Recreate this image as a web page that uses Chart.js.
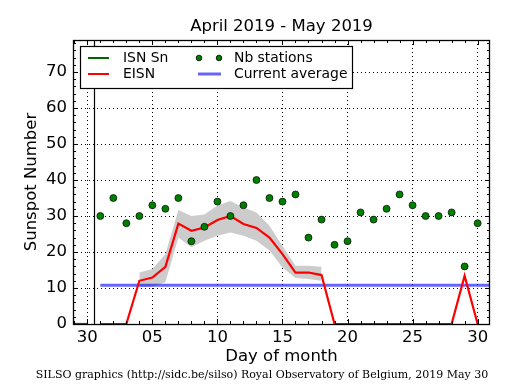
<!DOCTYPE html>
<html>
<head>
<meta charset="utf-8">
<script src="https://cdn.jsdelivr.net/npm/chart.js@4"></script>
<style>
  body { margin: 0; background: #fff; }
  #wrap { width: 515px; height: 390px; position: relative; }
</style>
</head>
<body>
<div id="wrap"><canvas id="sunChart"></canvas></div>
<script>
// day index: 0 = April 30, 1..30 = May 1..30
const days = [1,2,3,4,5,6,7,8,9,10,11,12,13,14,15,16,17,18,19,20,21,22,23,24,25,26,27,28,29,30];
const eisn = [0,0,0,12,12.9,15.9,27.9,25.9,26.8,28.9,30,27.8,26.7,24,19.4,14.3,14.3,13.6,0,0,0,0,0,0,0,0,0,0,13.4,0];
const bandHigh = [null,null,null,14.3,15.3,19.4,31.7,30,30.4,32.9,34.2,32.4,31,27.3,21.7,16.2,16.2,15.9,null,null,null,null,null,null,null,null,null,null,null,null];
const bandLow = [null,null,null,10.2,10.4,11.6,24,21.3,23.1,24.5,25.4,24.5,23.1,20.4,15.7,12.8,12.5,12,null,null,null,null,null,null,null,null,null,null,null,null];
const stations = [30,35,28,30,33,32,35,23,27,34,30,33,40,35,34,36,24,29,22,23,31,29,32,36,33,30,30,31,16,28];
const isnDays = [-2,-1,0];
const isnSn = [0,0,0];
const avgDays = [1,31];
const currentAvg = 10.8;
const monthBoundary = 0.5;

const xTickValues = [0,5,10,15,20,25,30];
const xTickLabels = ['30','05','10','15','20','25','30'];
const yTickValues = [0,10,20,30,40,50,60,70];
const yTickLabels = ['0','10','20','30','40','50','60','70'];

const titleText = 'April 2019 - May 2019';
const xTitle = 'Day of month';
const yTitle = 'Sunspot Number';
const footer = 'SILSO graphics (http://sidc.be/silso) Royal Observatory of Belgium, 2019 May 30';

function pts(xs, ys) {
    return xs.map(function(x, i) { return { x: x, y: ys[i] }; });
}

const SANS = '"DejaVu Sans", sans-serif';

// inward tick marks, frame, month boundary line, texts and legend
const decorPlugin = {
    id: 'decor',
    beforeDatasetsDraw(chart) {
        const ctx = chart.ctx, a = chart.chartArea;
        const xs = chart.scales.x;
        const px = Math.round(xs.getPixelForValue(monthBoundary)) + 0.5;
        ctx.save();
        ctx.strokeStyle = '#000';
        ctx.lineWidth = 1.2;
        ctx.beginPath();
        ctx.moveTo(px, a.top);
        ctx.lineTo(px, a.bottom);
        ctx.stroke();
        ctx.restore();
    },
    afterDraw(chart) {
        const ctx = chart.ctx, a = chart.chartArea;
        const xs = chart.scales.x, ys = chart.scales.y;
        ctx.save();
        ctx.strokeStyle = '#000';
        ctx.lineWidth = 1;
        ctx.beginPath();
        xs.ticks.forEach(function(t) {
            const p = Math.round(xs.getPixelForValue(t.value)) + 0.5;
            const len = xTickValues.includes(t.value) ? 5 : 3;
            ctx.moveTo(p, a.bottom); ctx.lineTo(p, a.bottom - len);
            ctx.moveTo(p, a.top); ctx.lineTo(p, a.top + len);
        });
        ys.ticks.forEach(function(t) {
            const p = Math.round(ys.getPixelForValue(t.value)) + 0.5;
            const len = yTickValues.includes(t.value) ? 5 : 3;
            ctx.moveTo(a.left, p); ctx.lineTo(a.left + len, p);
            ctx.moveTo(a.right, p); ctx.lineTo(a.right - len, p);
        });
        ctx.stroke();
        ctx.lineWidth = 1.3;
        ctx.strokeRect(Math.round(a.left) + 0.5, Math.round(a.top) + 0.5,
                       Math.round(a.right - a.left) - 1, Math.round(a.bottom - a.top));

        // texts
        const cx = (a.left + a.right) / 2;
        ctx.fillStyle = '#000';
        ctx.textAlign = 'center';
        ctx.textBaseline = 'middle';
        ctx.font = '16.5px ' + SANS;
        ctx.fillText(titleText, cx, 27);
        ctx.fillText(xTitle, cx, 357);
        ctx.save();
        ctx.translate(32, (a.top + a.bottom) / 2);
        ctx.rotate(-Math.PI / 2);
        ctx.fillText(yTitle, 0, 0);
        ctx.restore();
        ctx.font = '11px "DejaVu Serif", serif';
        ctx.fillText(footer, 262, 375);

        // legend
        const lx = 80.5, ly = 46.5, lw = 272, lh = 42;
        ctx.fillStyle = '#fff';
        ctx.fillRect(lx, ly, lw, lh);
        ctx.strokeStyle = '#000';
        ctx.lineWidth = 1.2;
        ctx.strokeRect(lx, ly, lw, lh);
        const r1 = 58, r2 = 74;
        ctx.lineWidth = 2;
        ctx.strokeStyle = '#006400';
        ctx.beginPath(); ctx.moveTo(88, r1); ctx.lineTo(109, r1); ctx.stroke();
        ctx.strokeStyle = '#ff0000';
        ctx.beginPath(); ctx.moveTo(88, r2); ctx.lineTo(109, r2); ctx.stroke();
        ctx.lineWidth = 3;
        ctx.strokeStyle = 'rgba(0,0,255,0.6)';
        ctx.beginPath(); ctx.moveTo(198, r2); ctx.lineTo(221, r2); ctx.stroke();
        [199, 219].forEach(function(dx) {
            ctx.beginPath();
            ctx.arc(dx, r1, 2.8, 0, Math.PI * 2);
            ctx.fillStyle = '#008000';
            ctx.fill();
            ctx.lineWidth = 0.8;
            ctx.strokeStyle = '#000';
            ctx.stroke();
        });
        ctx.fillStyle = '#000';
        ctx.textAlign = 'left';
        ctx.font = '13.9px ' + SANS;
        ctx.fillText('ISN Sn', 123, r1);
        ctx.fillText('EISN', 123, r2);
        ctx.fillText('Nb stations', 234, r1);
        ctx.fillText('Current average', 234, r2);
        ctx.restore();
    }
};

const ctx = document.getElementById('sunChart').getContext('2d');
const chart = new Chart(ctx, {
    type: 'line',
    data: {
        datasets: [
            {
                label: 'Nb stations',
                data: pts(days, stations),
                showLine: false,
                pointRadius: 3.5,
                pointBackgroundColor: '#008000',
                pointBorderColor: 'rgba(0,0,0,0.85)',
                pointBorderWidth: 0.8,
                order: 0
            },
            {
                label: 'EISN',
                data: pts(days, eisn),
                borderColor: '#ff0000',
                borderWidth: 2.2,
                pointRadius: 0,
                order: 1
            },
            {
                label: 'ISN Sn',
                data: pts(isnDays, isnSn),
                borderColor: '#006400',
                borderWidth: 2.2,
                pointRadius: 0,
                order: 2
            },
            {
                label: 'Current average',
                data: pts(avgDays, [currentAvg, currentAvg]),
                borderColor: 'rgba(0,0,255,0.6)',
                borderWidth: 3,
                pointRadius: 0,
                order: 3
            },
            {
                label: 'band high',
                data: pts(days, bandHigh),
                borderWidth: 0,
                borderColor: 'rgba(0,0,0,0)',
                backgroundColor: '#cccccc',
                pointRadius: 0,
                fill: '+1',
                order: 4
            },
            {
                label: 'band low',
                data: pts(days, bandLow),
                borderWidth: 0,
                borderColor: 'rgba(0,0,0,0)',
                pointRadius: 0,
                fill: false,
                order: 5
            }
        ]
    },
    options: {
        responsive: true,
        maintainAspectRatio: false,
        animation: false,
        devicePixelRatio: 1,
        layout: { padding: { top: 40, right: 25, bottom: 0, left: 0 } },
        plugins: {
            legend: { display: false },
            title: { display: false },
            tooltip: { enabled: false }
        },
        scales: {
            x: {
                type: 'linear',
                min: -1.1,
                max: 30.95,
                afterFit: function(s) { s.height = 66; },
                afterBuildTicks: function(s) {
                    const t = [];
                    for (let v = -1; v <= 30; v++) t.push({ value: v });
                    s.ticks = t;
                },
                ticks: {
                    autoSkip: false,
                    maxRotation: 0,
                    padding: 4,
                    color: '#000',
                    font: { family: 'DejaVu Sans', size: 16.5 },
                    callback: function(v) {
                        const i = xTickValues.indexOf(v);
                        return i >= 0 ? xTickLabels[i] : '';
                    }
                },
                grid: {
                    drawTicks: false,
                    lineWidth: 1,
                    color: function(c) {
                        return c.tick && xTickValues.includes(c.tick.value) ? '#000' : 'rgba(0,0,0,0)';
                    }
                },
                border: { display: false, dash: [1, 3] }
            },
            y: {
                type: 'linear',
                min: 0,
                max: 78.9,
                afterFit: function(s) { s.width = 73; },
                afterBuildTicks: function(s) {
                    const t = [];
                    for (let v = 0; v <= 78; v += 2) t.push({ value: v });
                    s.ticks = t;
                },
                ticks: {
                    autoSkip: false,
                    padding: 6,
                    color: '#000',
                    font: { family: 'DejaVu Sans', size: 16.5 },
                    callback: function(v) {
                        const i = yTickValues.indexOf(v);
                        return i >= 0 ? yTickLabels[i] : '';
                    }
                },
                grid: {
                    drawTicks: false,
                    lineWidth: 1,
                    color: function(c) {
                        return c.tick && yTickValues.includes(c.tick.value) ? '#000' : 'rgba(0,0,0,0)';
                    }
                },
                border: { display: false, dash: [1, 3] }
            }
        }
    },
    plugins: [decorPlugin]
});
</script>
</body>
</html>
